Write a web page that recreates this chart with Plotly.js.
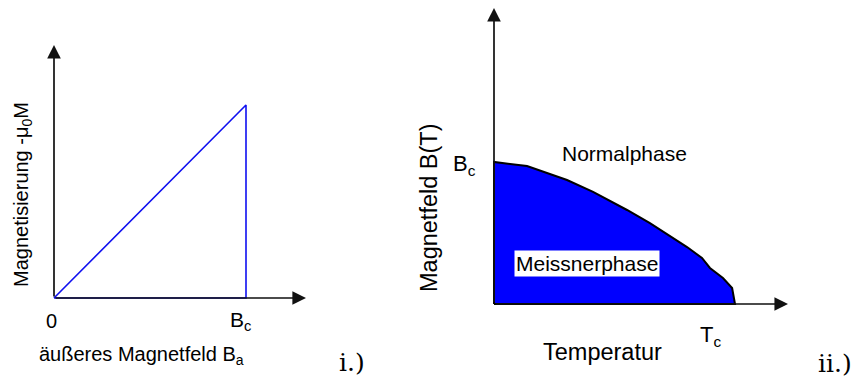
<!DOCTYPE html>
<html>
<head>
<meta charset="utf-8">
<script src="https://cdn.plot.ly/plotly-3.0.1.min.js"></script>
<style>html,body{margin:0;padding:0;background:#fff;}#chart{width:858px;height:380px;}</style>
</head>
<body>
<div id="chart"></div>
<script>
// ---- data: panel i (magnetisation vs applied field, in units of Bc) ----
const fieldBa = [0, 1, 1, 0];
const magnetisation = [0, 1, 0, 0];
const leftTickText = ['0', 'B<sub>c</sub>'];

// ---- data: panel ii (critical field curve, T/Tc vs B/Bc) ----
const temperature = [0, 0, 0.137, 0.303, 0.411, 0.552, 0.647, 0.801, 0.863, 0.896, 0.950, 0.988, 1, 0];
const criticalField = [0, 1, 0.972, 0.873, 0.789, 0.662, 0.570, 0.401, 0.324, 0.254, 0.183, 0.113, 0, 0];
const rightTickText = ['B<sub>c</sub>', 'T<sub>c</sub>'];

// axis arrow extents (in data units of each panel)
const leftAxisEnd = {x: 1.3125, y: 1.311};
const rightAxisEnd = {x: 1.22, y: 2.085};

const W = 858, H = 380;
const px = x => x / W;
const py = y => 1 - y / H;
const FONT = 'Liberation Sans, Arial, sans-serif';
const SERIF = 'DejaVu Serif, Liberation Serif, serif';

const traces = [
  {x: fieldBa, y: magnetisation, xaxis: 'x', yaxis: 'y', mode: 'lines',
   line: {color: '#1010f0', width: 1.6}, hoverinfo: 'skip'},
  {x: temperature, y: criticalField, xaxis: 'x2', yaxis: 'y2', mode: 'lines',
   fill: 'toself', fillcolor: '#0000ff', line: {color: '#000', width: 2}, hoverinfo: 'skip'}
];

function hiddenAxis(domain, range) {
  return {domain: domain, range: range, visible: false, showgrid: false, zeroline: false, fixedrange: true};
}

function axisArrow(xr, yr, x, y) {
  return {xref: xr, yref: yr, axref: xr, ayref: yr, x: x, y: y, ax: 0, ay: 0, text: '',
          showarrow: true, arrowhead: 2, arrowsize: 1.6, arrowwidth: 1.7, arrowcolor: '#111', standoff: 0};
}

function label(text, x, y, size, opts) {
  return Object.assign({xref: 'paper', yref: 'paper', x: px(x), y: py(y), text: text, showarrow: false,
    xanchor: 'center', yanchor: 'middle', font: {family: FONT, size: size, color: '#000'}}, opts || {});
}

const annotations = [
  axisArrow('x', 'y', leftAxisEnd.x, 0),
  axisArrow('x', 'y', 0, leftAxisEnd.y),
  axisArrow('x2', 'y2', rightAxisEnd.x, 0),
  axisArrow('x2', 'y2', 0, rightAxisEnd.y),
  // panel i texts
  label(leftTickText[0], 51, 321, 20),
  label(leftTickText[1], 240, 321, 21),
  label('äußeres Magnetfeld B<sub>a</sub>', 141, 355, 20),
  label('Magnetisierung -μ<sub>0</sub>M', 22, 195, 20, {textangle: -90}),
  label('i.)', 352, 362, 25, {font: {family: SERIF, size: 25, color: '#000'}}),
  // panel ii texts
  label(rightTickText[0], 464, 165, 22),
  label(rightTickText[1], 710, 336, 22),
  label('Normalphase', 624, 154, 21),
  label('Meissnerphase', 587, 263, 21, {bgcolor: '#fff', borderpad: 1}),
  label('Temperatur', 602, 352, 23.5),
  label('Magnetfeld B(T)', 429, 208, 23.5, {textangle: -90}),
  label('ii.)', 835, 363, 25, {font: {family: SERIF, size: 25, color: '#000'}})
];

const layout = {
  width: W, height: H,
  margin: {l: 0, r: 0, t: 0, b: 0},
  paper_bgcolor: '#fff', plot_bgcolor: 'rgba(0,0,0,0)',
  showlegend: false,
  xaxis: hiddenAxis([30 / W, 320 / W], [-0.125, 1.3854]),
  yaxis: hiddenAxis([1 - 310 / H, 1 - 40 / H], [-0.06218, 1.33679]),
  xaxis2: hiddenAxis([480 / W, 800 / W], [-0.05809, 1.26971]),
  yaxis2: hiddenAxis([1 - 315 / H, 1], [-0.07746, 2.14085]),
  annotations: annotations
};

Plotly.newPlot('chart', traces, layout, {displayModeBar: false, staticPlot: true});
</script>
</body>
</html>
